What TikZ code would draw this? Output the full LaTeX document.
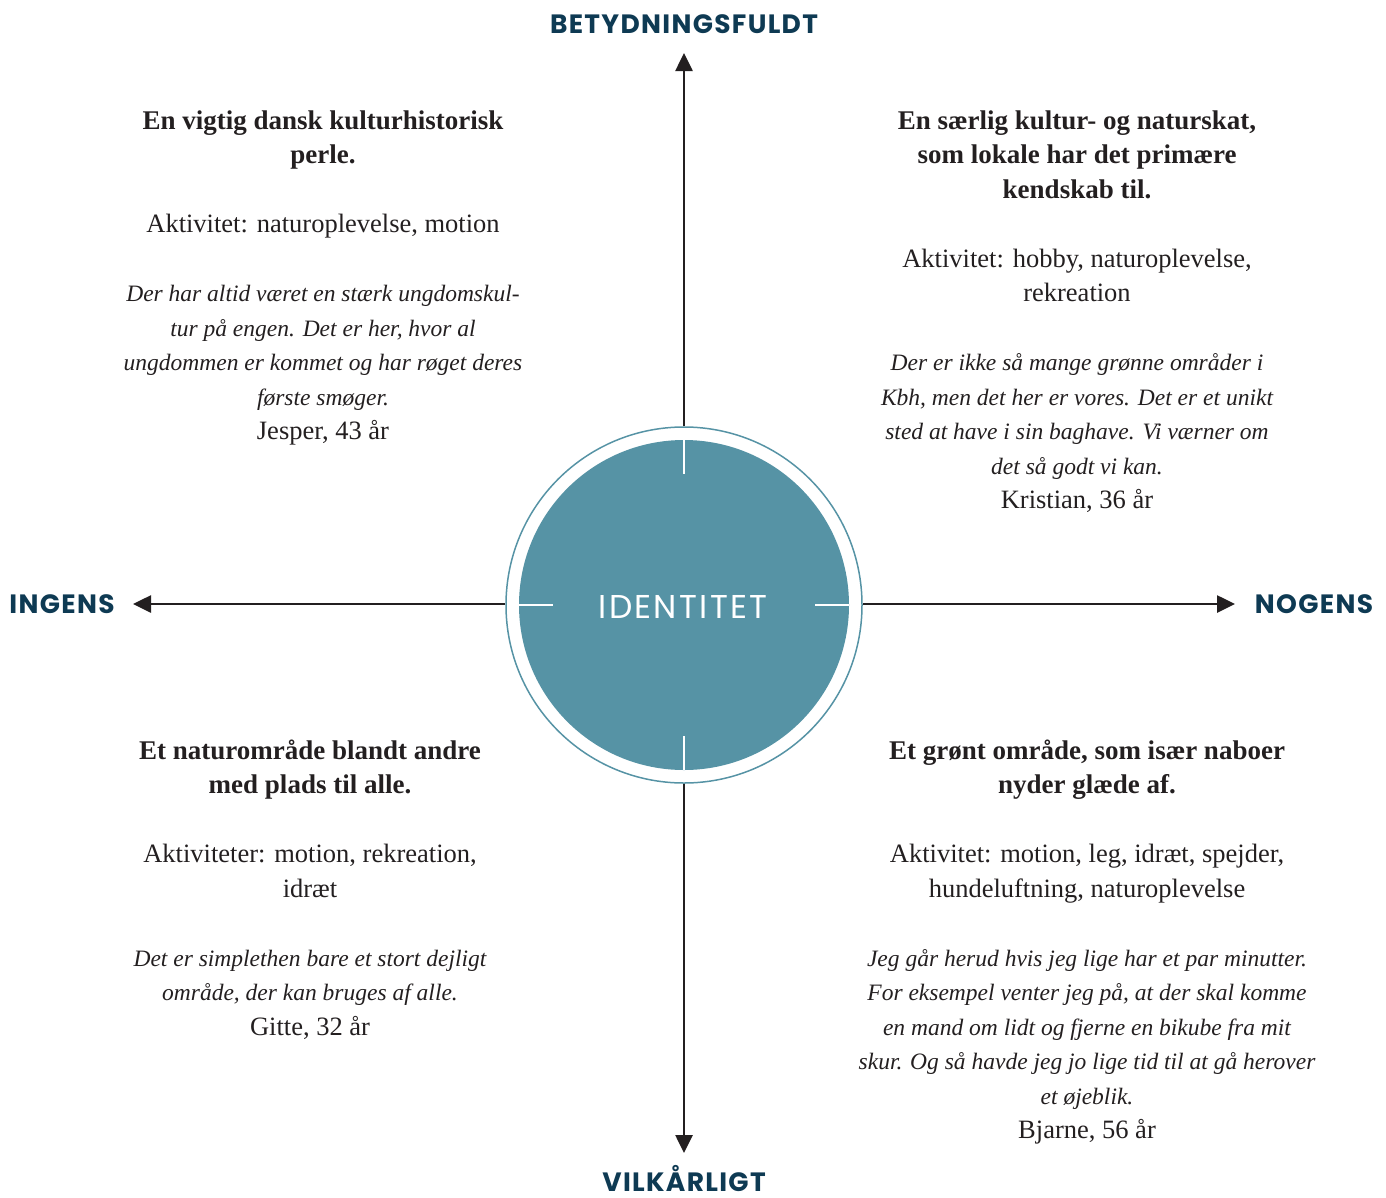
\documentclass[tikz,border=0pt]{standalone}
\usepackage{fontspec}
\setmainfont{Liberation Serif}
\newfontfamily\axfont[LetterSpace=5]{Poppins}
\newfontfamily\idfont[LetterSpace=7]{Poppins}
\usetikzlibrary{arrows.meta}
\definecolor{teal1}{RGB}{86,147,165}
\definecolor{navy1}{RGB}{14,58,83}
\definecolor{ink}{RGB}{35,31,32}
\tikzset{
  hd/.style={anchor=base, inner sep=0pt, text=ink, font=\fontsize{27}{32}\selectfont\bfseries},
  act/.style={anchor=base, inner sep=0pt, text=ink, font=\fontsize{26.5}{32}\selectfont},
  qt/.style={anchor=base, inner sep=0pt, text=ink, font=\fontsize{23.5}{32}\selectfont\itshape},
  axlab/.style={anchor=base, inner sep=0pt, text depth=0pt, text=navy1, font=\fontsize{26.5}{30}\selectfont\axfont\bfseries},
  axisarrow/.style={draw=ink, line width=2.6pt, -{Triangle[length=18pt,width=17pt]}},
  whitetick/.style={draw=white, line width=2.6pt},
}
\begin{document}
\begin{tikzpicture}[x=1pt,y=-1pt]
\useasboundingbox (0,0) rectangle (1386,1197);

% central disc
\node[circle, draw=teal1, line width=1.5pt, minimum size=356pt, inner sep=0pt] (ring) at (684,605) {};
\node[circle, fill=teal1, minimum size=330pt, inner sep=0pt] (disc) at (684,605) {};
\draw[whitetick] (disc.north) -- ++(0,34);
\draw[whitetick] (disc.south) -- ++(0,-34);
\draw[whitetick] (disc.west) -- ++(34,0);
\draw[whitetick] (disc.east) -- ++(-34,0);
\node[anchor=base, inner sep=0pt, text=white, font=\fontsize{33}{36}\selectfont\idfont] (idtext) at (683,618) {IDENTITET};

% axes
\coordinate (tipN) at (684,53);
\coordinate (tipS) at (684,1153);
\coordinate (tipW) at (133,604);
\coordinate (tipE) at (1235,604);
\draw[axisarrow] (ring.north) -- (tipN);
\draw[axisarrow] (ring.south) -- (tipS);
\draw[axisarrow] (ring.west |- tipW) -- (tipW);
\draw[axisarrow] (ring.east |- tipE) -- (tipE);

% axis labels
\node[axlab] (labN) at (684,33) {BETYDNINGSFULDT};
\node[axlab] (labS) at (684,1191) {VILKÅRLIGT};
\node[axlab] (labW) at (62,613) {INGENS};
\node[axlab] (labE) at (1314,613) {NOGENS};

% top left
\node[hd]  (tl0) at (323,129)   {En vigtig dansk kulturhistorisk};
\node[hd]  (tl1) at (323,163.5) {perle.};
\node[act] (tl3) at (323,232.5) {Aktivitet: naturoplevelse, motion};
\node[qt]  (tl5) at (323,301.5) {Der har altid været en stærk ungdomskul-};
\node[qt]  (tl6) at (323,336)   {tur på engen. Det er her, hvor al};
\node[qt]  (tl7) at (323,370.5) {ungdommen er kommet og har røget deres};
\node[qt]  (tl8) at (323,405)   {første smøger.};
\node[act] (tl9) at (323,439.5) {Jesper, 43 år};

% top right
\node[hd]  (tr0) at (1077,129)    {En særlig kultur- og naturskat,};
\node[hd]  (tr1) at (1077,163.5)  {som lokale har det primære};
\node[hd]  (tr2) at (1077,198)    {kendskab til.};
\node[act] (tr4) at (1077,267)    {Aktivitet: hobby, naturoplevelse,};
\node[act] (tr5) at (1077,301.5)  {rekreation};
\node[qt]  (tr7) at (1077,370.5)  {Der er ikke så mange grønne områder i};
\node[qt]  (tr8) at (1077,405)    {Kbh, men det her er vores. Det er et unikt};
\node[qt]  (tr9) at (1077,439.5)  {sted at have i sin baghave. Vi værner om};
\node[qt]  (tr10) at (1077,474)   {det så godt vi kan.};
\node[act] (tr11) at (1077,508.5) {Kristian, 36 år};

% bottom left
\node[hd]  (bl0) at (310,759)    {Et naturområde blandt andre};
\node[hd]  (bl1) at (310,793.5)  {med plads til alle.};
\node[act] (bl3) at (310,862.5)  {Aktiviteter: motion, rekreation,};
\node[act] (bl4) at (310,897)    {idræt};
\node[qt]  (bl6) at (310,966)    {Det er simplethen bare et stort dejligt};
\node[qt]  (bl7) at (310,1000.5) {område, der kan bruges af\ alle.};
\node[act] (bl8) at (310,1035)   {Gitte, 32 år};

% bottom right
\node[hd]  (br0) at (1087,759)     {Et grønt område, som især naboer};
\node[hd]  (br1) at (1087,793.5)   {nyder glæde af.};
\node[act] (br3) at (1087,862.5)   {Aktivitet: motion, leg, idræt, spejder,};
\node[act] (br4) at (1087,897)     {hundeluftning, naturoplevelse};
\node[qt]  (br6) at (1087,966)     {Jeg går herud hvis jeg lige har et par minutter.};
\node[qt]  (br7) at (1087,1000.5)  {For eksempel venter jeg på, at der skal komme};
\node[qt]  (br8) at (1087,1035)    {en mand om lidt og fjerne en bikube fra mit};
\node[qt]  (br9) at (1087,1069.5)  {skur. Og så havde jeg jo lige tid til at gå herover};
\node[qt]  (br10) at (1087,1104)   {et øjeblik.};
\node[act] (br11) at (1087,1138.5) {Bjarne, 56 år};
\end{tikzpicture}
\end{document}
